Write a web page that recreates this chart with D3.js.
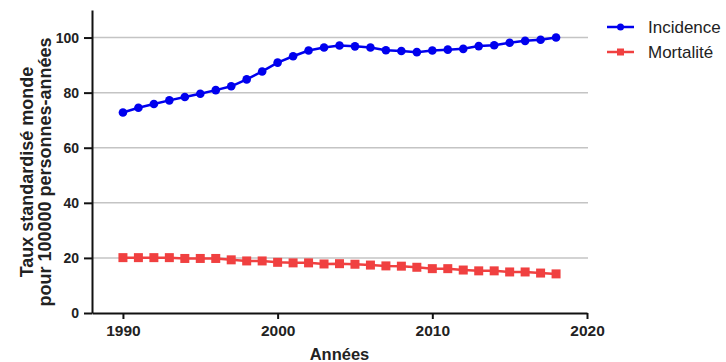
<!DOCTYPE html>
<html>
<head>
<meta charset="utf-8">
<script src="https://cdn.jsdelivr.net/npm/d3@7"></script>
<style>
  html, body { margin: 0; padding: 0; background: #fff; }
  svg { display: block; font-family: Arial, "Liberation Sans", sans-serif; }
</style>
</head>
<body>
<svg id="chart" width="726" height="362"></svg>
<script>
// Années et taux standardisés monde (pour 100000 personnes-années)
const years = d3.range(1990, 2019);
const incidence = [72.8, 74.5, 75.9, 77.2, 78.4, 79.6, 80.9, 82.3, 84.8, 87.7,
                   90.9, 93.2, 95.3, 96.4, 97.1, 96.8, 96.4, 95.4, 95.1, 94.7,
                   95.3, 95.6, 95.9, 96.9, 97.2, 98.1, 98.8, 99.2, 100.0];
const mortalite = [20.1, 20.1, 20.1, 20.1, 19.8, 19.8, 19.8, 19.3, 18.9, 18.9,
                   18.4, 18.2, 18.2, 17.8, 17.9, 17.7, 17.4, 17.1, 17.0, 16.6,
                   16.1, 16.1, 15.6, 15.3, 15.3, 14.9, 14.9, 14.5, 14.2];
const xTicks = [1990, 2000, 2010, 2020];
const yTicks = [0, 20, 40, 60, 80, 100];
const seriesNames = ["Incidence", "Mortalité"];
const seriesColors = ["#0000ee", "#f04040"];

const svg = d3.select("#chart");
const x = d3.scaleLinear().domain([1988, 2020]).range([92, 587]);
const y = d3.scaleLinear().domain([0, 110]).range([313, 10]);

// grille horizontale
svg.append("g")
  .selectAll("line")
  .data(yTicks.filter(d => d > 0))
  .join("line")
  .attr("x1", x(1988)).attr("x2", x(2020) + 1)
  .attr("y1", d => y(d)).attr("y2", d => y(d))
  .attr("stroke", "#c4c4c4").attr("stroke-width", 1.5);

// axes
const xAxis = svg.append("g")
  .attr("transform", `translate(0,${y(0)})`)
  .call(d3.axisBottom(x).tickValues(xTicks).tickFormat(d3.format("d"))
        .tickSizeInner(6).tickSizeOuter(0).tickPadding(6));
const yAxis = svg.append("g")
  .attr("transform", `translate(${x(1988)},0)`)
  .call(d3.axisLeft(y).tickValues(yTicks).tickSizeInner(8).tickSizeOuter(0).tickPadding(5));

[xAxis, yAxis].forEach(g => {
  g.select(".domain").attr("stroke", "#111").attr("stroke-width", 2);
  g.selectAll(".tick line").attr("stroke", "#111").attr("stroke-width", 2);
  g.selectAll(".tick text").attr("fill", "#222").attr("font-weight", "bold")
    .attr("font-family", "Arial, 'Liberation Sans', sans-serif");
});
xAxis.selectAll(".tick text").attr("font-size", 15.5);
yAxis.selectAll(".tick text").attr("font-size", 14);

// séries
const series = [incidence, mortalite];
const line = d3.line().x((d, i) => x(years[i])).y(d => y(d));

series.forEach((vals, s) => {
  const g = svg.append("g");
  g.append("path")
    .datum(vals)
    .attr("d", line)
    .attr("fill", "none")
    .attr("stroke", seriesColors[s])
    .attr("stroke-width", 2.5);
  if (s === 0) {
    g.selectAll("circle").data(vals).join("circle")
      .attr("cx", (d, i) => x(years[i])).attr("cy", d => y(d))
      .attr("r", 4.3).attr("fill", seriesColors[s]);
  } else {
    g.selectAll("rect").data(vals).join("rect")
      .attr("x", (d, i) => x(years[i]) - 4.5).attr("y", d => y(d) - 4.5)
      .attr("width", 9).attr("height", 9).attr("fill", seriesColors[s]);
  }
});

// légende
const legend = svg.append("g");
seriesNames.forEach((name, s) => {
  const ly = 27 + s * 25;
  legend.append("line")
    .attr("x1", 607).attr("x2", 634).attr("y1", ly).attr("y2", ly)
    .attr("stroke", seriesColors[s]).attr("stroke-width", 2.5);
  if (s === 0) {
    legend.append("circle").attr("cx", 620.5).attr("cy", ly).attr("r", 3.5)
      .attr("fill", seriesColors[s]);
  } else {
    legend.append("rect").attr("x", 617).attr("y", ly - 3.5)
      .attr("width", 7).attr("height", 7).attr("fill", seriesColors[s]);
  }
  legend.append("text")
    .attr("x", 648).attr("y", ly + 5.5)
    .attr("font-size", 17).attr("fill", "#222")
    .text(name);
});

// titres des axes
svg.append("text")
  .attr("x", x(2004)).attr("y", 360)
  .attr("text-anchor", "middle")
  .attr("font-size", 16.5).attr("font-weight", "bold").attr("fill", "#222")
  .text("Années");

const yTitle = svg.append("text")
  .attr("transform", "translate(0,172) rotate(-90)")
  .attr("text-anchor", "middle")
  .attr("font-size", 18).attr("font-weight", "bold").attr("fill", "#222");
yTitle.append("tspan").attr("x", 0).attr("y", 33).text("Taux standardisé monde");
yTitle.append("tspan").attr("x", 0).attr("y", 51).text("pour 100000 personnes-années");
</script>
</body>
</html>
